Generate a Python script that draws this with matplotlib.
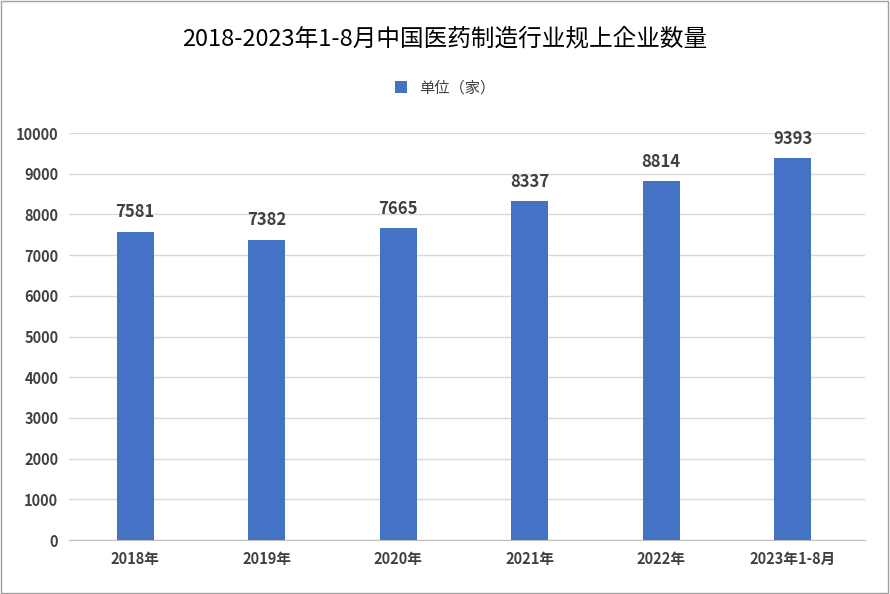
import matplotlib
matplotlib.use("Agg")
import matplotlib.pyplot as plt
from matplotlib.patches import Rectangle
from matplotlib import font_manager

categories = ["2018年", "2019年", "2020年", "2021年", "2022年", "2023年1-8月"]
values = [7581, 7382, 7665, 8337, 8814, 9393]
yticks = list(range(0, 10001, 1000))

cjk = [f.name for f in font_manager.fontManager.ttflist if "CJK" in f.name]
pref = [n for n in cjk if n.endswith("SC")] or cjk
fams = ([pref[0]] if pref else []) + ["DejaVu Sans"]
plt.rcParams["font.family"] = "sans-serif"
plt.rcParams["font.sans-serif"] = fams

fig = plt.figure(figsize=(8.9, 5.94), dpi=100)
ax = fig.add_axes([0.078, 0.0909, 0.894, 0.685])
color = "#4472C4"
x = range(len(categories))
ax.bar(x, values, width=0.28, color=color, label="单位（家）", zorder=3)
for xi, v in zip(x, values):
    ax.text(xi, v + 250, str(v), ha="center", va="bottom", fontsize=12, fontweight="bold", color="#404040")
ax.set_ylim(0, 10000)
ax.set_xlim(-0.5, len(categories) - 0.45)
ax.set_yticks(yticks)
ax.set_yticklabels([str(t) for t in yticks], fontsize=10.5, fontweight="bold", color="#404040")
ax.set_xticks(list(x))
ax.set_xticklabels(categories, fontsize=10.5, fontweight="bold", color="#404040")
ax.yaxis.grid(True, color="#D9D9D9", linewidth=1, zorder=0)
for s in ["top", "right", "left"]:
    ax.spines[s].set_visible(False)
ax.spines["bottom"].set_color("#BFBFBF")
ax.tick_params(length=0, pad=8)
fig.text(0.5, 0.935, "2018-2023年1-8月中国医药制造行业规上企业数量", ha="center", va="center", fontsize=17, color="black")
fig.legend(loc="center", bbox_to_anchor=(0.5, 0.852), frameon=False, fontsize=11, handlelength=0.8, handleheight=0.8, labelcolor="#404040")
fig.patches.append(Rectangle((0.001, 0.001), 0.997, 0.997, transform=fig.transFigure, fill=False, edgecolor="#A0A0A0", linewidth=1))
fig.savefig("out.png", dpi=100)
